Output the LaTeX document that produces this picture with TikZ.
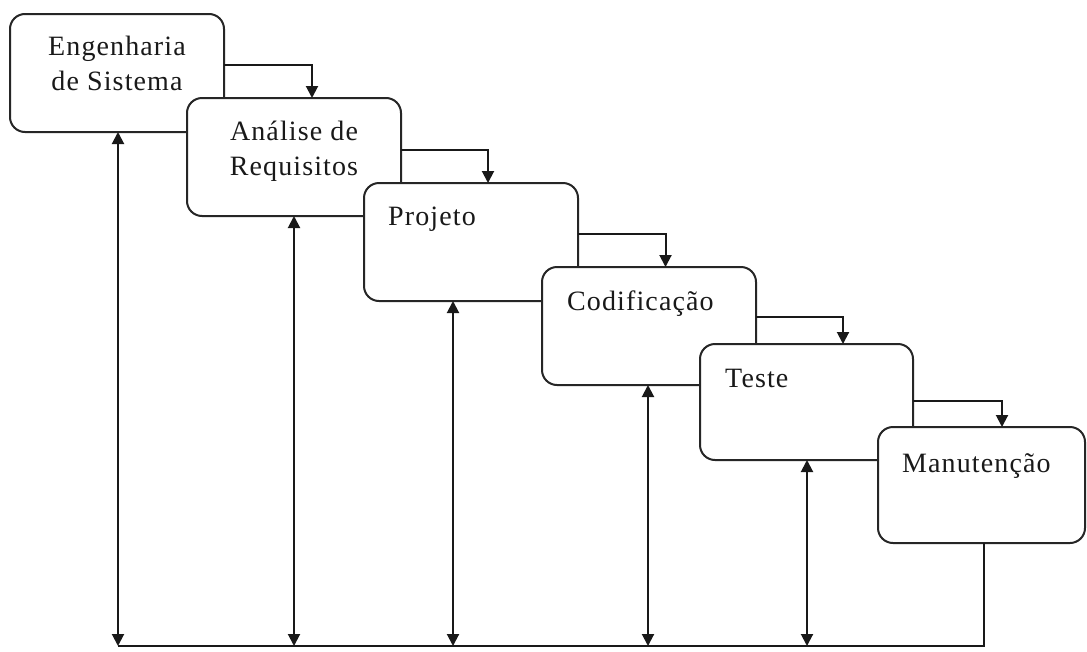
\documentclass[tikz,border=0pt]{standalone}
\usepackage{fontspec}
\setmainfont{Liberation Serif}[LetterSpace=4]
\usetikzlibrary{arrows.meta}
\begin{document}
\begin{tikzpicture}[x=1pt,y=-1pt,
  stage/.style={draw=black!85, line width=2pt, fill=white, rounded corners=15pt,
    minimum width=214pt, minimum height=118pt, inner sep=0pt, outer sep=0pt, anchor=north west},
  lbl/.style={font=\fontsize{28}{35}\selectfont, text=black!90, inner sep=0pt},
  conn/.style={draw=black!90, line width=2pt, -{Triangle[width=12pt,length=12pt]}},
  dbl/.style={draw=black!90, line width=2pt, {Triangle[width=12pt,length=12pt]}-{Triangle[width=12pt,length=12pt]}},
  plain/.style={draw=black!90, line width=2pt}]
\useasboundingbox (0,0) rectangle (1087,651);
\fill[white] (0,0) rectangle (1087,651);
% boxes
\node[stage] (b1) at (10,14) {};
\node[stage] (b2) at (187,98) {};
\node[stage] (b3) at (364,183) {};
\node[stage] (b4) at (542,267) {};
\node[stage, minimum width=213pt, minimum height=116pt] (b5) at (700,344) {};
\node[stage, minimum width=207pt, minimum height=116pt] (b6) at (878,427) {};
% labels
\node[lbl, align=center, anchor=base] (t1) at (117,90) {Engenharia\\de Sistema};
\node[lbl, align=center, anchor=base] (t2) at (294,175) {Análise de\\Requisitos};
\node[lbl, anchor=base west] (t3) at (388,225) {Projeto};
\node[lbl, anchor=base west] (t4) at (567,310) {Codificação};
\node[lbl, anchor=base west] (t5) at (725,387) {Teste};
\node[lbl, anchor=base west] (t6) at (902,472) {Manutenção};
% forward connectors
\draw[conn] ([yshift=8pt]b1.east) -| ([xshift=18pt]b2.north);
\draw[conn] ([yshift=7.5pt]b2.east) -| ([xshift=17pt]b3.north);
\draw[conn] ([yshift=8.5pt]b3.east) -| ([xshift=16.5pt]b4.north);
\draw[conn] ([yshift=9pt]b4.east) -| ([xshift=36.5pt]b5.north);
\draw[conn] ([yshift=1pt]b5.east) -| ([xshift=20.5pt]b6.north);
% feedback line
\coordinate (a1) at (118,646);
\coordinate (a2) at (294,646);
\coordinate (a3) at (453,646);
\coordinate (a4) at (648,646);
\coordinate (a5) at (807,646);
\coordinate (a6) at (984,646);
\draw[plain] (b6.south -| a6) -- (a6) -- (a1);
\draw[dbl] (b1.south -| a1) -- (a1);
\draw[dbl] (b2.south -| a2) -- (a2);
\draw[dbl] (b3.south -| a3) -- (a3);
\draw[dbl] (b4.south -| a4) -- (a4);
\draw[dbl] (b5.south -| a5) -- (a5);
\end{tikzpicture}
\end{document}
